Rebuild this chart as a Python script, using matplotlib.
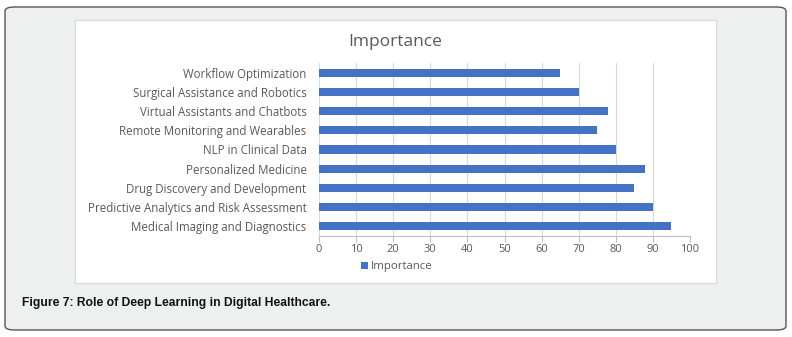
import matplotlib.pyplot as plt
from matplotlib.patches import FancyBboxPatch, Rectangle

categories = [
    "Medical Imaging and Diagnostics",
    "Predictive Analytics and Risk Assessment",
    "Drug Discovery and Development",
    "Personalized Medicine",
    "NLP in Clinical Data",
    "Remote Monitoring and Wearables",
    "Virtual Assistants and Chatbots",
    "Surgical Assistance and Robotics",
    "Workflow Optimization",
]
importance = [95, 90, 85, 88, 80, 75, 78, 70, 65]
xticks = [0, 10, 20, 30, 40, 50, 60, 70, 80, 90, 100]

W, H = 792, 337
fig = plt.figure(figsize=(W / 100, H / 100), dpi=100)
fig.patch.set_facecolor("white")

# outer rounded panel
panel = FancyBboxPatch((5 / W, 7 / H), 781 / W, 323 / H,
                       boxstyle="round,pad=0,rounding_size=0.012",
                       transform=fig.transFigure, facecolor="#eef0ef",
                       edgecolor="#555555", linewidth=1.0, zorder=-2)
fig.patches.append(panel)

# inner white chart area
inner = Rectangle((75 / W, 1 - 283 / H), 641 / W, 263 / H,
                  transform=fig.transFigure, facecolor="white",
                  edgecolor="#d9d9d9", linewidth=0.8, zorder=-1)
fig.patches.append(inner)

plt.rcParams['font.family'] = ['Open Sans', 'DejaVu Sans']
text_color = "#595959"

ax = fig.add_axes([319 / W, 1 - 236 / H, 371 / W, 173 / H])
ax.set_facecolor("none")
bars = ax.barh(range(len(categories)), importance, height=0.42,
               color="#4472c4", label="Importance", zorder=3)
ax.set_xlim(0, 100)
ax.set_ylim(-0.5, len(categories) - 0.5)
ax.set_xticks(xticks)
ax.set_yticks(range(len(categories)))
ax.set_yticklabels(categories)
ax.grid(axis="x", color="#d9d9d9", linewidth=0.8, zorder=0)
for s in ["top", "right", "left"]:
    ax.spines[s].set_visible(False)
ax.spines["bottom"].set_color("#bfbfbf")
ax.tick_params(axis="y", length=0, pad=9, labelsize=8.3, labelcolor=text_color)
ax.tick_params(axis="x", length=4, color="#bfbfbf", pad=2, labelsize=8,
               labelcolor=text_color)

fig.text(395 / W, 1 - 42 / H, "Importance", ha="center", va="center",
         fontsize=12.5, color=text_color)

leg = fig.legend(handles=[bars], labels=["Importance"], loc="center",
                 bbox_to_anchor=(397 / W, 1 - 267 / H), frameon=False,
                 fontsize=8.2, handlelength=0.55, handleheight=0.55,
                 handletextpad=0.3, labelcolor=text_color)

fig.text(22 / W, 1 - 303 / H, "Figure 7: Role of Deep Learning in Digital Healthcare.",
         ha="left", va="center", fontsize=8.7, fontweight="bold", color="#111111",
         family=["Liberation Sans Narrow", "Liberation Sans", "DejaVu Sans"])

fig.savefig("out.png", dpi=100)
